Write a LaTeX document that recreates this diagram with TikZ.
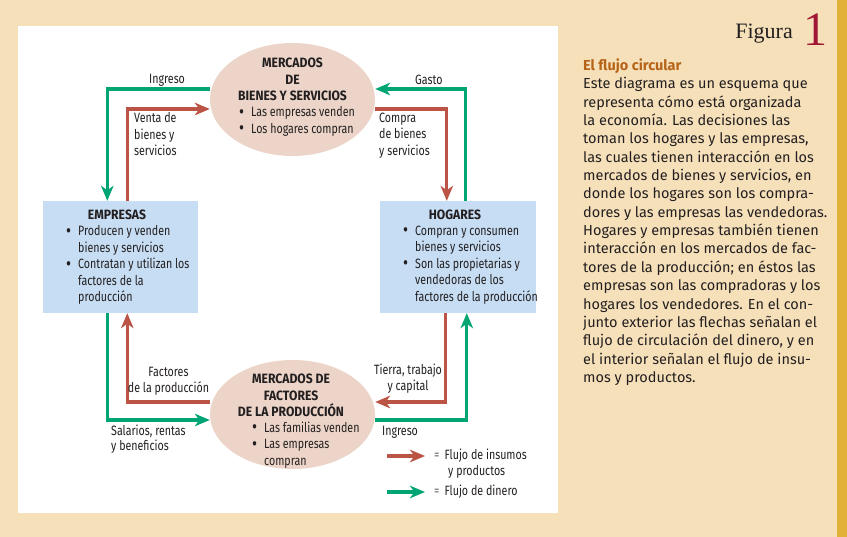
\documentclass[tikz,border=0pt]{standalone}
\usepackage{fontspec}
\usepackage{graphicx}
\usetikzlibrary{shapes.geometric,arrows.meta}
\newfontfamily\dfont[FakeStretch=0.79]{Fira Sans}
\newfontfamily\dbfont[FakeStretch=0.9]{Fira Sans}
\newfontfamily\sfont{Fira Sans}
\newfontfamily\ffont{Liberation Serif}
\definecolor{tanbg}{RGB}{246,224,186}
\definecolor{goldstrip}{RGB}{226,178,56}
\definecolor{grn}{RGB}{0,165,115}
\definecolor{rd}{RGB}{188,84,70}
\definecolor{ellfill}{RGB}{236,213,200}
\definecolor{boxfill}{RGB}{198,221,243}
\definecolor{titlebrown}{RGB}{182,100,24}
\definecolor{figred}{RGB}{160,22,52}
\definecolor{ink}{RGB}{35,31,32}
\newcommand\bul{\makebox[12pt][l]{\smash{\raisebox{-1.4pt}{\scalebox{1.45}{\textbullet}}}}}
\newcommand\ind{\hspace*{12pt}}
\begin{document}
\begin{tikzpicture}[x=1pt,y=-1pt,
  lbl/.style={font=\dfont\fontsize{13.5}{16.5}\selectfont, text=ink, inner sep=0, align=left},
  caps/.style={font=\dbfont\bfseries\fontsize{13.5}{16.5}\selectfont, text=ink, inner sep=0, align=center},
  mkt/.style={ellipse, fill=ellfill, inner sep=0, minimum width=165pt},
  agent/.style={rectangle, fill=boxfill, inner sep=0, minimum width=155pt, minimum height=112pt},
  flow/.style={line width=3.2pt, -{Stealth[length=15pt,width=12.5pt,inset=4.5pt]}},
  goods/.style={flow, draw=rd},
  money/.style={flow, draw=grn}]
\useasboundingbox (0,0) rectangle (847,537);
\fill[tanbg] (0,0) rectangle (847,537);
\fill[goldstrip] (837,0) rectangle (847,537);
\fill[white] (18,26) rectangle (558,513);

% markets and agents
\node[mkt, minimum height=113pt] (mbs) at (292.5,99.5) {};
\node[mkt, minimum height=109pt] (mfp) at (292.5,414.5) {};
\node[agent] (emp) at (120,257) {};
\node[agent, minimum width=156pt] (hog) at (458,257) {};

% texts in markets
\node[caps, anchor=north] (mbst) at (292.5,58) {MERCADOS\\DE\\BIENES Y SERVICIOS};
\node[lbl, anchor=north west] (mbsb) at (239,106.5) {\bul Las empresas venden\\\bul Los hogares compran};
\node[caps, anchor=north] (mfpt) at (291,374) {MERCADOS DE\\FACTORES\\DE LA PRODUCCIÓN};
\node[lbl, anchor=north west] (mfpb) at (252,421.5) {\bul Las familias venden\\\bul Las empresas\\\ind compran};

% texts in agents
\node[caps, anchor=north] (empt) at (117,210) {EMPRESAS};
\node[lbl, anchor=north west] (empb) at (66,225.5) {\bul Producen y venden\\\ind bienes y servicios\\\bul Contratan y utilizan los\\\ind factores de la\\\ind producción};
\node[caps, anchor=north] (hogt) at (455,210) {HOGARES};
\node[lbl, anchor=north west] (hogb) at (403,225.5) {\bul Compran y consumen\\\ind bienes y servicios\\\bul Son las propietarias y\\\ind vendedoras de los\\\ind factores de la producción};

% flows
\draw[money] ([yshift=10.5pt]mbs.west) -| ([xshift=65pt]emp.north west);
\draw[goods] ([xshift=85pt]emp.north west) |- ([yshift=-9.5pt]mbs.west);
\draw[goods] ([yshift=-9.5pt]mbs.east) -| ([xshift=67pt]hog.north west);
\draw[money] ([xshift=86pt]hog.north west) |- ([yshift=10.5pt]mbs.east);
\draw[goods] ([yshift=12.5pt]mfp.west) -| ([xshift=85pt]emp.south west);
\draw[money] ([xshift=65pt]emp.south west) |- ([yshift=-5.5pt]mfp.west);
\draw[goods] ([xshift=66pt]hog.south west) |- ([yshift=12.5pt]mfp.east);
\draw[money] ([yshift=-5.5pt]mfp.east) -| ([xshift=87pt]hog.south west);

% flow labels
\node[lbl, anchor=west] (l1) at (149,80) {Ingreso};
\node[lbl, anchor=west] (l2) at (415,80) {Gasto};
\node[lbl, anchor=north west] (l3) at (134,112.5) {Venta de\\bienes y\\servicios};
\node[lbl, anchor=north west] (l4) at (379,112.5) {Compra\\de bienes\\y servicios};
\node[lbl, anchor=north, align=center] (l5) at (168.5,366.5) {Factores\\de la producción};
\node[lbl, anchor=north, align=center] (l6) at (408,363.5) {Tierra, trabajo\\y capital};
\node[lbl, anchor=north west, font=\dfont\fontsize{13.5}{15}\selectfont] (l7) at (111,425) {Salarios, rentas\\y beneficios};
\node[lbl, anchor=west] (l8) at (382,432) {Ingreso};

% legend
\coordinate (g1a) at (387,456);
\coordinate (g1b) at (425,456);
\coordinate (g2a) at (387,492);
\coordinate (g2b) at (425,492);
\draw[goods] (g1a) -- (g1b);
\draw[money] (g2a) -- (g2b);
\node[lbl, anchor=north west] (lg1) at (434,448.5) {{\color{ink!70}=}\hspace{5pt}Flujo de insumos\\\hspace*{14pt}y productos};
\node[lbl, anchor=west] (lg2) at (434,491.5) {{\color{ink!70}=}\hspace{5pt}Flujo de dinero};

% side panel
\node[font=\ffont\fontsize{22}{22}\selectfont, text=ink, inner sep=0, anchor=base east] (fig) at (793,39) {Figura};
\node[font=\ffont\fontsize{48}{48}\selectfont, text=figred, inner sep=0, anchor=base west] (one) at (803,45.5) {1};
\node[font=\sfont\fontsize{14.5}{18.35}\selectfont, text=ink, inner sep=0, align=left, anchor=north west] (side) at (583,58.5) {%
{\bfseries\color{titlebrown}El flujo circular}\\
Este diagrama es un esquema que\\
representa cómo está organizada\\
la economía. Las decisiones las\\
toman los hogares y las empresas,\\
las cuales tienen interacción en los\\
mercados de bienes y servicios, en\\
donde los hogares son los compra-\\
dores y las empresas las vendedoras.\\
Hogares y empresas también tienen\\
interacción en los mercados de fac-\\
tores de la producción; en éstos las\\
empresas son las compradoras y los\\
hogares los vendedores. En el con-\\
junto exterior las flechas señalan el\\
flujo de circulación del dinero, y en\\
el interior señalan el flujo de insu-\\
mos y productos.};
\end{tikzpicture}
\end{document}
